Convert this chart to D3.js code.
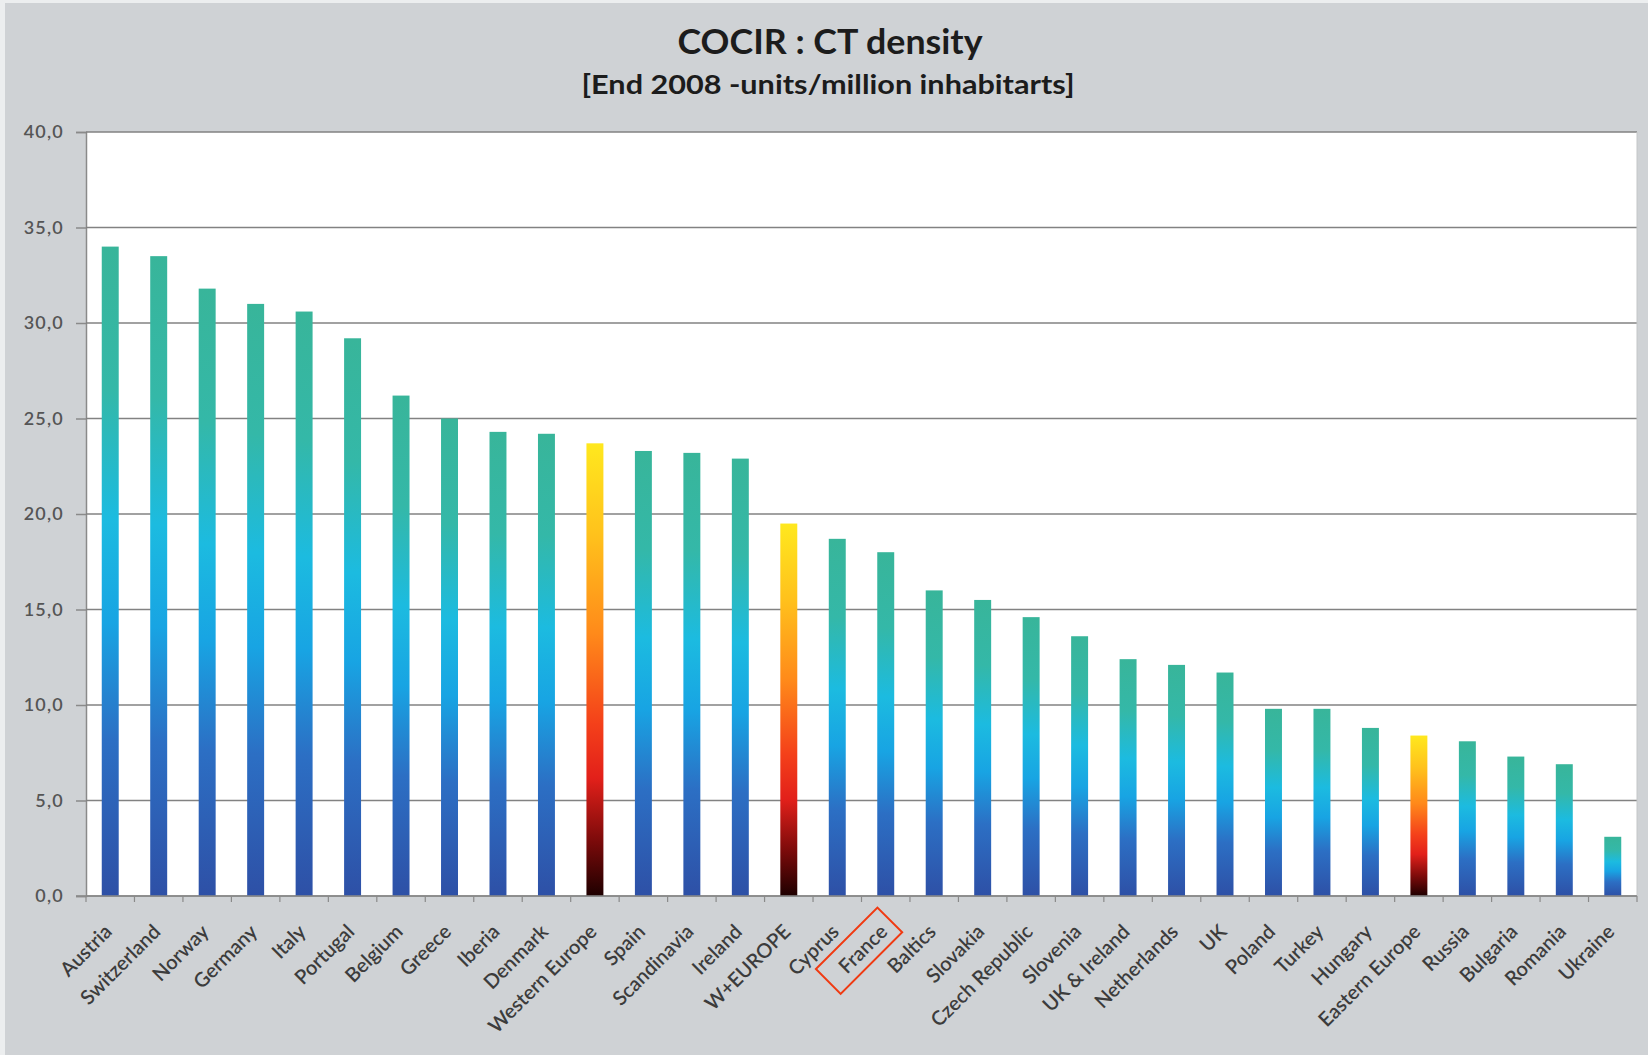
<!DOCTYPE html>
<html>
<head>
<meta charset="utf-8">
<script src="https://cdn.jsdelivr.net/npm/d3@7"></script>
<style>
  html, body { margin: 0; padding: 0; background: #cfd2d5; }
  svg { display: block; }
</style>
</head>
<body>
<svg id="chart" width="1648" height="1055"></svg>
<script>
// CT scanner density per country / region, end 2008 (units per million inhabitants)
const categories = [
  "Austria", "Switzerland", "Norway", "Germany", "Italy", "Portugal", "Belgium",
  "Greece", "Iberia", "Denmark", "Western Europe", "Spain", "Scandinavia", "Ireland",
  "W+EUROPE", "Cyprus", "France", "Baltics", "Slovakia", "Czech Republic", "Slovenia",
  "UK & Ireland", "Netherlands", "UK", "Poland", "Turkey", "Hungary", "Eastern Europe",
  "Russia", "Bulgaria", "Romania", "Ukraine"
];
const values = [
  34.0, 33.5, 31.8, 31.0, 30.6, 29.2, 26.2,
  25.0, 24.3, 24.2, 23.7, 23.3, 23.2, 22.9,
  19.5, 18.7, 18.0, 16.0, 15.5, 14.6, 13.6,
  12.4, 12.1, 11.7, 9.8, 9.8, 8.8, 8.4,
  8.1, 7.3, 6.9, 3.1
];
// aggregate regions drawn with the warm gradient
const regions = ["Western Europe", "W+EUROPE", "Eastern Europe"];
// country singled out with a boxed label
const boxedLabel = "France";
const yTicks = [0, 5, 10, 15, 20, 25, 30, 35, 40];
const titleText = "COCIR : CT density";
const subtitleText = "[End 2008 -units/million inhabitarts]";

const W = 1648, H = 1055;
const plot = { left: 86, right: 1637, top: 132, bottom: 896 };

const svg = d3.select("#chart");
const font = "Lato, 'Open Sans', 'DejaVu Sans', sans-serif";

// page background with a light outer edge
svg.append("rect").attr("width", W).attr("height", H).attr("fill", "#eceeef");
svg.append("rect").attr("x", 5).attr("y", 3).attr("width", W - 5).attr("height", H - 3)
  .attr("fill", "#cfd2d5");

// gradients
const defs = svg.append("defs");
const cool = defs.append("linearGradient").attr("id", "coolGrad")
  .attr("x1", 0).attr("y1", 0).attr("x2", 0).attr("y2", 1);
[[0, "#38b59a"], [0.22, "#34b8a8"], [0.42, "#1cbbe0"], [0.58, "#18a4e3"],
 [0.76, "#2c6fc4"], [1, "#2e50a6"]].forEach(([o, c]) =>
  cool.append("stop").attr("offset", o).attr("stop-color", c));
const warm = defs.append("linearGradient").attr("id", "warmGrad")
  .attr("x1", 0).attr("y1", 0).attr("x2", 0).attr("y2", 1);
[[0, "#ffe81e"], [0.2, "#ffc21c"], [0.42, "#ff8a1a"], [0.62, "#f4401a"],
 [0.74, "#e2201a"], [0.88, "#7a0a0a"], [1, "#1e0000"]].forEach(([o, c]) =>
  warm.append("stop").attr("offset", o).attr("stop-color", c));

// scales
const x = d3.scaleBand().domain(categories)
  .range([plot.left, plot.right]).paddingInner(0.65).paddingOuter(0.325);
const y = d3.scaleLinear().domain([0, 40]).range([plot.bottom, plot.top]);

// plot area
svg.append("rect")
  .attr("x", plot.left).attr("y", plot.top)
  .attr("width", plot.right - plot.left).attr("height", plot.bottom - plot.top)
  .attr("fill", "#ffffff");

// y-axis
const yAxis = d3.axisLeft(y).tickValues(yTicks).tickSize(10).tickPadding(12)
  .tickFormat(d => d3.format(".1f")(d).replace(".", ","));
const gy = svg.append("g").attr("transform", `translate(${plot.left},0)`).call(yAxis);
gy.select(".domain").attr("stroke", "#8a8a8a").attr("stroke-width", 1.5);
gy.selectAll(".tick line").attr("stroke", "#8a8a8a").attr("stroke-width", 1.5);
gy.selectAll(".tick text")
  .attr("fill", "#555555").attr("font-family", font).attr("font-size", 18)
  .attr("font-weight", 600).attr("letter-spacing", 1.2);

// horizontal gridlines
svg.append("g").selectAll("line").data(yTicks).join("line")
  .attr("x1", plot.left).attr("x2", plot.right)
  .attr("y1", d => y(d)).attr("y2", d => y(d))
  .attr("stroke", "#828282").attr("stroke-width", 1.6);

// right frame edge
svg.append("line")
  .attr("x1", plot.right).attr("x2", plot.right)
  .attr("y1", plot.top).attr("y2", plot.bottom)
  .attr("stroke", "#c4c6c8").attr("stroke-width", 1);

// bars
svg.append("g").selectAll("rect").data(categories).join("rect")
  .attr("x", d => x(d))
  .attr("width", x.bandwidth())
  .attr("y", (d, i) => y(values[i]))
  .attr("height", (d, i) => y(0) - y(values[i]))
  .attr("fill", d => regions.includes(d) ? "url(#warmGrad)" : "url(#coolGrad)");

// category axis with tick marks between categories
const step = x.step();
const boundaries = d3.range(categories.length + 1).map(i => plot.left + i * step);
svg.append("g").selectAll("line").data(boundaries).join("line")
  .attr("x1", d => d).attr("x2", d => d)
  .attr("y1", plot.bottom).attr("y2", plot.bottom + 6)
  .attr("stroke", "#8a8a8a").attr("stroke-width", 1.2);
svg.append("line")
  .attr("x1", plot.left - 10).attr("x2", plot.right)
  .attr("y1", plot.bottom).attr("y2", plot.bottom)
  .attr("stroke", "#8a8a8a").attr("stroke-width", 1.6);

// rotated category labels
const labels = svg.append("g").selectAll("g").data(categories).join("g")
  .attr("transform", d => `translate(${x(d) + x.bandwidth() / 2 + 3},${plot.bottom + 37}) rotate(-45)`);
labels.append("text")
  .attr("text-anchor", "end")
  .attr("font-family", font).attr("font-size", 20).attr("font-weight", 600)
  .attr("fill", "#3c3c3c")
  .text(d => d);

// box around the highlighted label
labels.filter(d => d === boxedLabel).append("rect")
  .attr("x", -77).attr("y", -26).attr("width", 87).attr("height", 35)
  .attr("fill", "none").attr("stroke", "#f03a12").attr("stroke-width", 2);

// titles
svg.append("text")
  .attr("x", 830).attr("y", 54)
  .attr("text-anchor", "middle")
  .attr("font-family", font).attr("font-size", 35).attr("font-weight", 700)
  .attr("fill", "#1c1c1c")
  .attr("textLength", 305).attr("lengthAdjust", "spacingAndGlyphs")
  .text(titleText);
svg.append("text")
  .attr("x", 828).attr("y", 94)
  .attr("text-anchor", "middle")
  .attr("font-family", font).attr("font-size", 27).attr("font-weight", 700)
  .attr("fill", "#1c1c1c")
  .attr("textLength", 493).attr("lengthAdjust", "spacingAndGlyphs")
  .text(subtitleText);
</script>
</body>
</html>
